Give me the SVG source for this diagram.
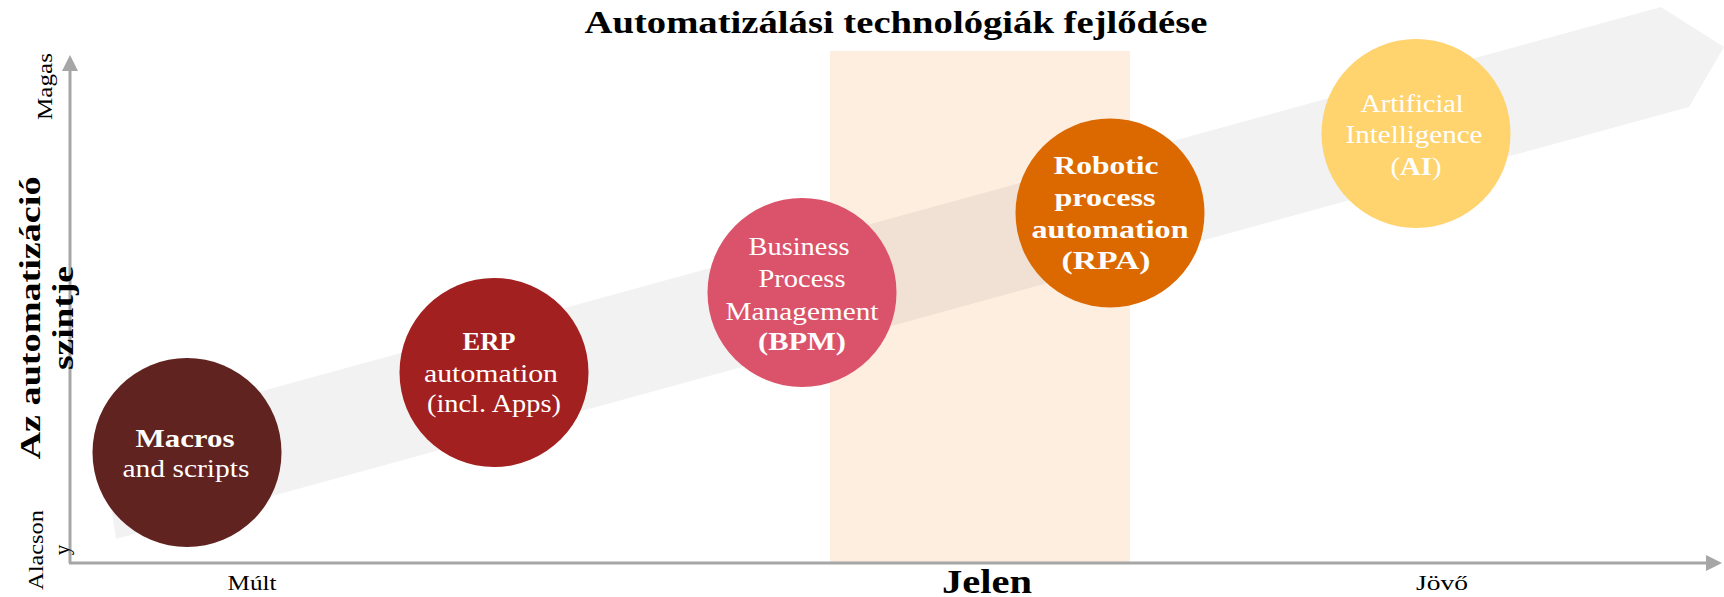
<svg xmlns="http://www.w3.org/2000/svg" width="1724" height="597" viewBox="0 0 1724 597">
<style>
text{font-family:"Liberation Serif","Times New Roman",serif;}
.t{font-size:26px;fill:#ffffff;text-anchor:middle;}
.b{font-weight:bold;}
.lbl{font-size:21px;fill:#000000;text-anchor:middle;}
.axis{stroke:#a6a6a6;stroke-width:3;fill:none;}
</style>
<defs>
<marker id="ah" viewBox="0 0 16 16" refX="0" refY="8" markerWidth="16" markerHeight="16" markerUnits="userSpaceOnUse" orient="auto">
<path d="M0,0 L16,8 L0,16 Z" fill="#a6a6a6"/>
</marker>
</defs>
<rect width="1724" height="597" fill="#ffffff"/>
<rect id="present-zone" x="830" y="51" width="300" height="513" fill="#fdeee0"/>
<polygon id="band" points="100,435.5 1661,7 1724,47 1689,107 116,539" fill="#000000" fill-opacity="0.051"/>
<g id="connectors">
<line class="axis" x1="70" y1="563" x2="70" y2="71" marker-end="url(#ah)"/>
<line class="axis" x1="69" y1="563" x2="1706" y2="563" marker-end="url(#ah)"/>
</g>
<text x="896" y="33" font-size="31" font-weight="bold" text-anchor="middle" textLength="623" lengthAdjust="spacingAndGlyphs">Automatizálási technológiák fejlődése</text>
<g transform="translate(0,318) rotate(-90)">
<text x="0" y="40" font-size="30" font-weight="bold" text-anchor="middle" textLength="283" lengthAdjust="spacingAndGlyphs">Az automatizáció</text>
<text x="0" y="73" font-size="30" font-weight="bold" text-anchor="middle" textLength="104" lengthAdjust="spacingAndGlyphs">szintje</text>
</g>
<g transform="translate(52,86.5) rotate(-90)">
<text class="lbl" x="0" y="0" textLength="67" lengthAdjust="spacingAndGlyphs">Magas</text>
</g>
<g transform="translate(0,550) rotate(-90)">
<text class="lbl" x="0" y="43" textLength="80" lengthAdjust="spacingAndGlyphs">Alacson</text>
<text class="lbl" x="0" y="69">y</text>
</g>
<text class="lbl" x="252" y="590" font-size="22" textLength="49" lengthAdjust="spacingAndGlyphs">Múlt</text>
<text class="lbl b" x="987" y="593" style="font-size:34px" textLength="90" lengthAdjust="spacingAndGlyphs">Jelen</text>
<text class="lbl" x="1442" y="590" textLength="52" lengthAdjust="spacingAndGlyphs">Jövő</text>
<g id="macros">
<circle cx="187" cy="452.5" r="94.5" fill="#602320"/>
<text class="t b" x="185" y="447" textLength="99" lengthAdjust="spacingAndGlyphs">Macros</text>
<text class="t" x="186" y="477" textLength="127" lengthAdjust="spacingAndGlyphs">and scripts</text>
</g>
<g id="erp">
<circle cx="494" cy="372.5" r="94.5" fill="#a32020"/>
<text class="t b" x="489" y="350" textLength="53" lengthAdjust="spacingAndGlyphs">ERP</text>
<text class="t" x="491" y="382" textLength="134" lengthAdjust="spacingAndGlyphs">automation</text>
<text class="t" x="494" y="412" textLength="134" lengthAdjust="spacingAndGlyphs">(incl. Apps)</text>
</g>
<g id="bpm">
<circle cx="802" cy="292.5" r="94.5" fill="#db536a"/>
<text class="t" x="799" y="255" textLength="101" lengthAdjust="spacingAndGlyphs">Business</text>
<text class="t" x="802" y="287" textLength="87" lengthAdjust="spacingAndGlyphs">Process</text>
<text class="t" x="802" y="320" textLength="153" lengthAdjust="spacingAndGlyphs">Management</text>
<text class="t b" x="802" y="350" textLength="88" lengthAdjust="spacingAndGlyphs">(BPM)</text>
</g>
<g id="rpa">
<circle cx="1110" cy="213" r="94.5" fill="#dc6900"/>
<text class="t b" x="1106" y="174" textLength="105" lengthAdjust="spacingAndGlyphs">Robotic</text>
<text class="t b" x="1105" y="206" textLength="101" lengthAdjust="spacingAndGlyphs">process</text>
<text class="t b" x="1110" y="238" textLength="157" lengthAdjust="spacingAndGlyphs">automation</text>
<text class="t b" x="1106" y="269" textLength="89" lengthAdjust="spacingAndGlyphs">(RPA)</text>
</g>
<g id="ai">
<circle cx="1416" cy="133.5" r="94.5" fill="#ffd36e"/>
<text class="t" x="1412" y="112" textLength="103" lengthAdjust="spacingAndGlyphs">Artificial</text>
<text class="t" x="1414" y="143" textLength="137" lengthAdjust="spacingAndGlyphs">Intelligence</text>
<text class="t" x="1416" y="175" textLength="51" lengthAdjust="spacingAndGlyphs">(<tspan class="b">AI</tspan>)</text>
</g>
</svg>
